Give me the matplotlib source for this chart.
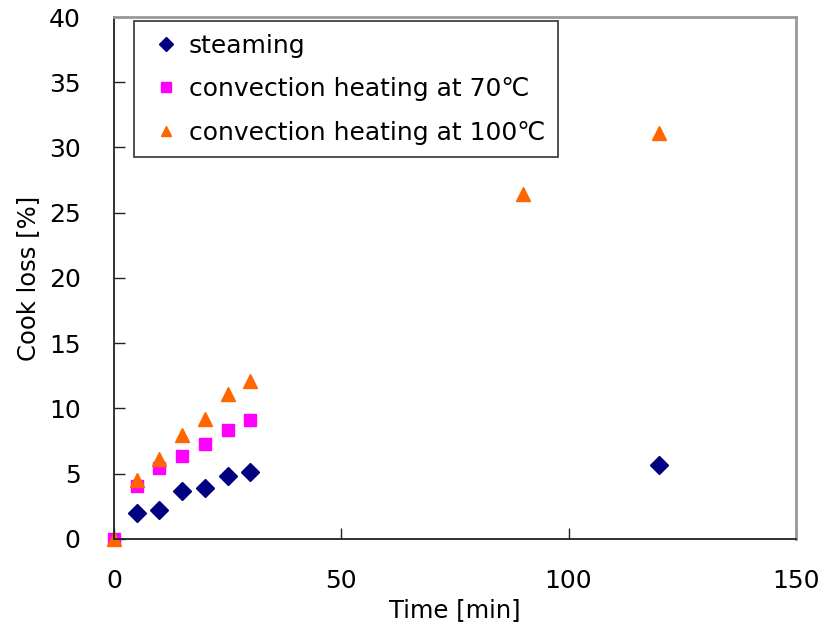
import matplotlib
matplotlib.use("Agg")
import matplotlib.pyplot as plt

plt.rcParams['font.family'] = ['DejaVu Sans', 'Noto Sans CJK JP']

# cook loss [%] vs heating time [min]
t_steam = [5, 10, 15, 20, 25, 30, 120]
steaming = [2.0, 2.2, 3.7, 3.9, 4.8, 5.1, 5.7]

t_70 = [0, 5, 10, 15, 20, 25, 30]
conv_70 = [0, 4.05, 5.45, 6.35, 7.3, 8.35, 9.1]

t_100 = [0, 5, 10, 15, 20, 25, 30, 90, 120]
conv_100 = [0, 4.5, 6.1, 8.0, 9.2, 11.1, 12.1, 26.4, 31.1]

xticks = [0, 50, 100, 150]
yticks = [0, 5, 10, 15, 20, 25, 30, 35, 40]

fig = plt.figure(figsize=(8.29, 6.31), dpi=100)
ax = fig.add_axes([0.1375, 0.146, 0.8225, 0.827])

ax.plot(t_steam, steaming, linestyle='none', marker='D', markersize=9,
        color='#000080', label='steaming', clip_on=False)
ax.plot(t_70, conv_70, linestyle='none', marker='s', markersize=9,
        color='#FF00FF', label='convection heating at 70℃', clip_on=False)
ax.plot(t_100, conv_100, linestyle='none', marker='^', markersize=10,
        color='#FF6600', label='convection heating at 100℃', clip_on=False)

ax.set_xlim(0, 150)
ax.set_ylim(0, 40)
ax.set_xticks(xticks)
ax.set_yticks(yticks)
ax.tick_params(direction='in', length=8, width=1, labelsize=18, color='#222222')
ax.tick_params(axis='x', pad=22)
ax.tick_params(axis='y', pad=24)

for s in ['left', 'bottom']:
    ax.spines[s].set_color('#222222')
    ax.spines[s].set_linewidth(1.3)
for s in ['top', 'right']:
    ax.spines[s].set_color('#999999')
    ax.spines[s].set_linewidth(2)

ax.set_xlabel('Time [min]', fontsize=17.5, labelpad=3)
ax.set_ylabel('Cook loss [%]', fontsize=17.5, labelpad=6)

leg = ax.legend(loc='upper left', bbox_to_anchor=(0.029, 0.992), fontsize=18,
                frameon=True, fancybox=False, edgecolor='black',
                borderaxespad=0, handlelength=1.6, handletextpad=0.1,
                borderpad=0.5, labelspacing=0.78, markerscale=0.75)
leg.get_frame().set_linewidth(1.2)

fig.savefig('out.png', dpi=100)
